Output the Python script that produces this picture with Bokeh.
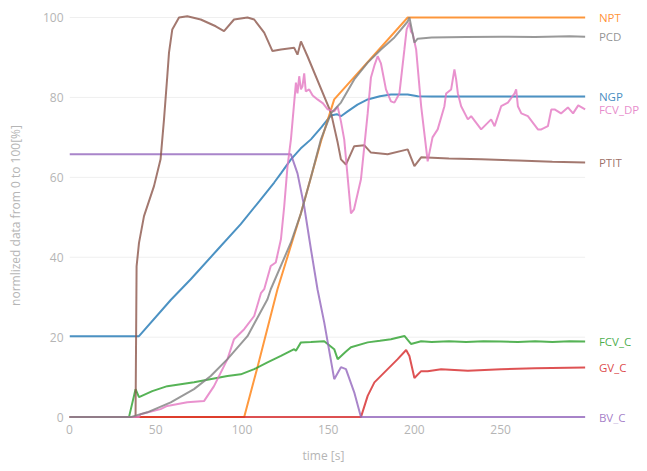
from bokeh.plotting import figure
from bokeh.models import Range1d, FixedTicker, ColumnDataSource, Title
from bokeh.embed import file_html
from bokeh.resources import INLINE
from bokeh.core.properties import value

# ---------------- data (time [s], normalized value [%]) ----------------
ngp_t = [0, 40.3, 58.7, 70.3, 85, 99.3, 110, 118.7, 122.6, 128.4, 134, 140, 146, 151.6, 155, 157.4, 161.3, 167, 172.9, 180, 186.4, 196.1, 201.9, 210, 250, 299]
ngp_v = [20.25, 20.25, 29.3, 34.5, 41.5, 48.3, 54, 58.7, 61, 64.5, 67.2, 69.5, 72.5, 75.5, 75.8, 75.3, 76.5, 78.2, 79.5, 80.3, 80.75, 80.75, 80.3, 80.25, 80.25, 80.25]

npt_t = [0, 101.3, 109, 120.6, 134.2, 145.8, 153.5, 196.1, 299]
npt_v = [0, 0, 12.5, 32, 51, 69, 79.5, 100, 100]

fcvc_t = [0, 34.5, 38.3, 40.3, 48, 56.7, 72.2, 91.6, 99.3, 107.1, 114.8, 122.6, 130.3, 131.3, 134.2, 140, 147.7, 153.5, 155.5, 160, 163.2, 172.9, 180, 186.4, 194.2, 198, 203.9, 210, 220, 230, 240, 250, 260, 270, 280, 290, 299]
fcvc_v = [0, 0, 7, 5, 6.5, 7.75, 8.7, 10.3, 10.7, 12, 13.7, 15.3, 17, 16.6, 18.7, 18.8, 19, 17, 14.5, 16.3, 17.5, 18.7, 19.1, 19.5, 20.3, 18.3, 19, 18.8, 19.0, 18.8, 19.0, 18.9, 18.8, 19.0, 18.8, 19.0, 18.9]

gvc_t = [0, 169, 172.9, 176.8, 184.5, 190.3, 195.2, 197.1, 200, 203.9, 207.7, 215.5, 231, 250.3, 270, 299]
gvc_v = [0, 0, 5.3, 8.7, 12, 14.5, 16.8, 15.3, 9.8, 11.5, 11.5, 12, 11.6, 12, 12.2, 12.4]

bvc_t = [0, 128.4, 132.2, 136.1, 140, 143.8, 147.7, 153.5, 157.4, 160.3, 165.1, 169, 299]
bvc_v = [65.75, 65.75, 61, 52.7, 42, 32, 23.7, 9.5, 12.5, 12, 6.2, 0, 0]

ptit_t = [0, 38.3, 38.9, 40.3, 43.2, 49, 52.8, 54.8, 56.7, 57.7, 59.6, 63.5, 68.3, 76.1, 84.8, 89.6, 95.4, 103.2, 107.1, 112.9, 117.7, 122.6, 130.3, 132.2, 134.2, 138, 151.6, 155.5, 157.4, 160.3, 165.1, 171, 174.8, 184.5, 196.1, 200, 203.9, 220, 238.7, 260, 280, 299]
ptit_v = [0, 0, 37.7, 43.6, 50.3, 57.8, 64.5, 74.5, 85.3, 91.2, 97, 100, 100.3, 99.5, 97.8, 96.6, 99.5, 100, 99.5, 96.2, 91.6, 92, 92.4, 90.7, 94, 90.3, 76.2, 68.7, 64.5, 63.2, 67.8, 68, 66.2, 65.8, 67, 62.8, 65, 64.7, 64.5, 64.2, 63.9, 63.7]

fcvdp_t = [0, 40.3, 41.2, 52.8, 56.7, 68.3, 78, 83.8, 91.6, 95.4, 101.3, 107.1, 111, 112.9, 116.7, 119.6, 122.6, 124.5, 126.4, 128.4, 131.3, 132.2, 133.2, 134.2, 135.1, 136.1, 137, 139, 141, 143.8, 147, 149.7, 153.5, 155.5, 157.4, 159.3, 163.2, 165, 169, 172.9, 174.8, 176.8, 178.7, 180.6, 183.5, 186.4, 188.4, 191.3, 194.2, 195.5, 197.1, 198, 199, 201, 203.9, 207.7, 210.5, 213.5, 217.4, 218.4, 221.3, 223.2, 224.2, 225.2, 227.1, 231, 232.9, 238.7, 244.5, 246.5, 250.3, 254.2, 258.1, 259, 260, 262, 265.8, 271.6, 273.6, 277.4, 279.4, 281.3, 285, 289, 292, 295, 299]
fcvdp_v = [0, 0, 0.7, 2, 2.8, 3.7, 4, 7.75, 14.5, 19.5, 22, 25.3, 31, 32, 37.8, 38.7, 44.5, 52.7, 62.7, 69.5, 83.7, 81, 85.3, 82, 82.8, 86, 81.5, 82, 80.5, 79.5, 78.5, 77, 76.5, 77.7, 74, 69.5, 51, 52, 59.5, 76, 85, 88, 90.3, 88.5, 82, 79, 78.7, 81, 92, 97, 98.7, 96.5, 96, 92, 77.8, 64, 70, 72, 77.8, 81, 82, 87, 84.5, 81, 77.8, 74.5, 75.3, 72, 74.5, 72.8, 77.8, 78.7, 81, 82, 77.8, 76, 75.3, 72, 72, 72.8, 77, 77, 76, 77.5, 76, 78, 77]

pcd_t = [0, 35.4, 45.1, 58.7, 72.2, 81.9, 91.6, 103.2, 114.8, 116.7, 128.4, 134.2, 140, 145.8, 151.6, 157.4, 165.1, 172.9, 180.6, 188.4, 196.1, 197.1, 200, 201.9, 210, 230, 250, 270, 290, 299]
pcd_v = [0, 0, 1.2, 3.7, 7, 10.3, 14.5, 20.25, 29.5, 32, 43.7, 51, 60, 69.5, 76, 78.7, 84.5, 88.7, 92, 95, 99, 100, 93.7, 94.7, 95.0, 95.1, 95.2, 95.1, 95.3, 95.2]

names = ["NGP", "NPT", "FCV_C", "GV_C", "BV_C", "PTIT", "FCV_DP", "PCD"]
colors = ["#1f77b4", "#ff7f0e", "#2ca02c", "#d62728", "#9467bd", "#8c564b", "#e377c2", "#7f7f7f"]
series_t = [ngp_t, npt_t, fcvc_t, gvc_t, bvc_t, ptit_t, fcvdp_t, pcd_t]
series_v = [ngp_v, npt_v, fcvc_v, gvc_v, bvc_v, ptit_v, fcvdp_v, pcd_v]

x_ticks = [0, 50, 100, 150, 200, 250]
y_ticks = [0, 20, 40, 60, 80, 100]

FONT = "Open Sans"
GRAY = "#b5b5b5"

t_end = max(max(t) for t in series_t)

# frame spans the data area plus the right-hand label margin
p = figure(width=645, height=471, output_backend="svg", toolbar_location=None,
           x_range=Range1d(0, 334), y_range=Range1d(-1.6, 102.5),
           min_border_left=69, min_border_right=0, min_border_top=7, min_border_bottom=48)
p.outline_line_color = None
p.xgrid.visible = False
p.ygrid.visible = False

# horizontal grid lines limited to the data span
g = p.segment(x0=[0] * len(y_ticks), x1=[t_end] * len(y_ticks), y0=y_ticks, y1=y_ticks,
              line_color="#efefef", line_width=1)
g.level = "underlay"

for t, v, c in zip(series_t, series_v, colors):
    p.line(t, v, line_color=c, line_width=2, line_alpha=0.8)

# end-of-line labels
lab = ColumnDataSource(dict(x=[t_end + 8] * len(names), y=[v[-1] for v in series_v],
                            text=names, color=colors))
p.text(x="x", y="y", text="text", text_color="color", source=lab,
       text_font=value(FONT), text_font_size="11.5px", text_baseline="middle",
       text_align="left", text_alpha=0.85)

for ax in (p.xaxis[0], p.yaxis[0]):
    ax.axis_line_color = None
    ax.major_tick_line_color = None
    ax.minor_tick_line_color = None
    ax.major_tick_out = 0
    ax.major_tick_in = 0
    ax.major_label_text_font = FONT
    ax.major_label_text_font_size = "12px"
    ax.major_label_text_color = GRAY
    ax.axis_label_text_font = FONT
    ax.axis_label_text_font_size = "12px"
    ax.axis_label_text_color = GRAY
    ax.axis_label_text_font_style = "normal"

p.xaxis.ticker = FixedTicker(ticks=x_ticks)
p.yaxis.ticker = FixedTicker(ticks=y_ticks)
p.xaxis.major_label_standoff = 1
p.yaxis.axis_label = "normlized data from 0 to 100[%]"
p.yaxis.major_label_standoff = 6
p.yaxis.axis_label_standoff = 16

# x-axis title, centred under the data span (not under the label margin)
xt = Title(text="time [s]", align="left", offset=233, standoff=16,
           text_font=FONT, text_font_size="12px", text_color=GRAY, text_font_style="normal")
p.add_layout(xt, "below")

open("out.html", "w").write(file_html(p, INLINE))
